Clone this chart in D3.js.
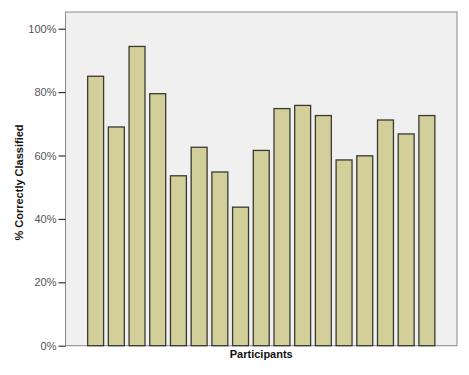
<!DOCTYPE html>
<html>
<head>
<meta charset="utf-8">
<script src="https://cdn.jsdelivr.net/npm/d3@7"></script>
<style>
  body { margin: 0; background: #fff; }
  svg { display: block; font-family: "Liberation Sans", Arial, sans-serif; }
</style>
</head>
<body>
<div id="chart"></div>
<script>
// participant ids and % correctly classified
const participants = d3.range(1, 18).map(String);
const correctPct = [85.0, 69.0, 94.4, 79.5, 53.6, 62.6, 54.8, 43.7, 61.6, 74.8, 75.8, 72.6, 58.6, 59.9, 71.2, 66.8, 72.6];
const yTicks = [0, 20, 40, 60, 80, 100];

const width = 469, height = 375;
const plot = { left: 65.5, right: 457, top: 12, bottom: 345.7 };

const svg = d3.select('#chart').append('svg')
    .attr('width', width)
    .attr('height', height);

const x = d3.scaleBand()
    .domain(participants)
    .range([plot.left, plot.right])
    .paddingInner(0.23)
    .paddingOuter(1.07);

const y = d3.scaleLinear()
    .domain([0, 100])
    .range([plot.bottom, 28.7]);

// plot background
svg.append('rect')
    .attr('x', plot.left)
    .attr('y', plot.top)
    .attr('width', plot.right - plot.left)
    .attr('height', plot.bottom - plot.top)
    .attr('fill', '#f0f0f0')
    .attr('stroke', '#8a8a8a')
    .attr('stroke-width', 1);

// bars
svg.selectAll('.bar')
    .data(correctPct)
    .enter()
    .append('rect')
    .attr('class', 'bar')
    .attr('x', (d, i) => x(participants[i]))
    .attr('y', d => y(d))
    .attr('width', x.bandwidth())
    .attr('height', d => y(0) - y(d))
    .attr('fill', '#d3cf9a')
    .attr('stroke', '#3b3a30')
    .attr('stroke-width', 1.3);

// y axis
const yAxis = d3.axisLeft(y)
    .tickValues(yTicks)
    .tickFormat(d => d + '%')
    .tickSize(7)
    .tickPadding(2);

const yG = svg.append('g')
    .attr('transform', `translate(${plot.left},0)`)
    .call(yAxis);
yG.select('.domain').remove();
yG.selectAll('line').attr('stroke', '#333').attr('stroke-width', 1.2);
yG.selectAll('text')
    .attr('fill', '#555')
    .style('font-size', '11px');

// axis titles
svg.append('text')
    .attr('transform', `translate(23,182.5) rotate(-90)`)
    .attr('text-anchor', 'middle')
    .style('font-size', '11px')
    .style('font-weight', 'bold')
    .attr('fill', '#111')
    .text('% Correctly Classified');

svg.append('text')
    .attr('x', (plot.left + plot.right) / 2)
    .attr('y', 358)
    .attr('text-anchor', 'middle')
    .style('font-size', '11px')
    .style('font-weight', 'bold')
    .attr('fill', '#111')
    .text('Participants');
</script>
</body>
</html>
